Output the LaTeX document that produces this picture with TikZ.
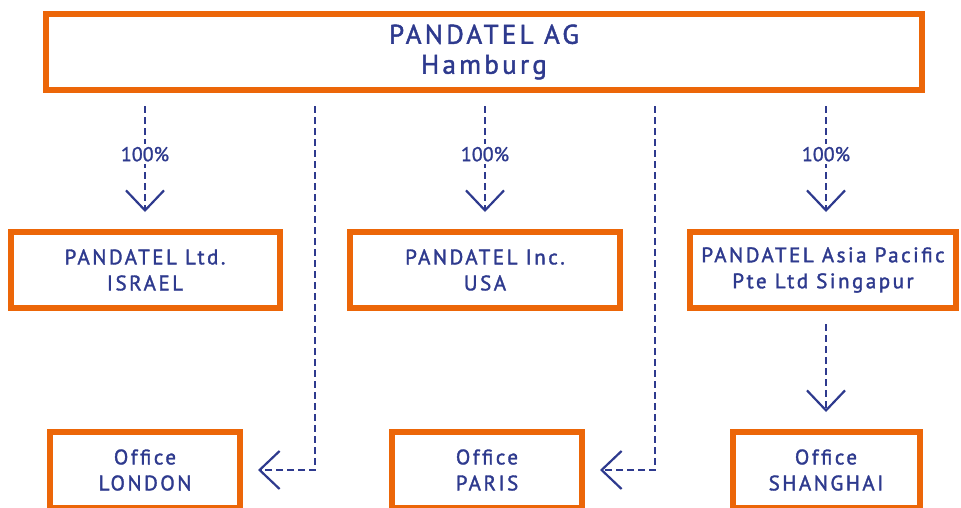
\documentclass[tikz,border=0pt]{standalone}
\usepackage{fontspec}
\usepackage{tikz}
\usetikzlibrary{arrows.meta}
\newfontfamily\orgfont[LetterSpace=12,FakeBold=1.6]{PT Sans}
\newfontfamily\pctfont[FakeBold=1.2]{PT Sans}
\definecolor{pdorange}{HTML}{EC6608}
\definecolor{pdblue}{HTML}{2E3A8E}

\tikzset{
    unit/.style={draw=pdorange, line width=6pt, text=pdblue, align=center,
        font=\orgfont\fontsize{21}{26}\selectfont, minimum height=76pt, inner sep=0pt},
    link/.style={draw=pdblue, line width=2.2pt, dash pattern=on 7pt off 4pt,
        -{Straight Barb[length=20pt,width=38pt,line width=2.2pt]}},
    share/.style={fill=white, text=pdblue, inner sep=3pt, font=\pctfont\fontsize{20}{24}\selectfont}
}

\begin{document}
\begin{tikzpicture}[x=1pt,y=-1pt]
    \useasboundingbox (0,0) rectangle (961,507);

    %boxes
    \node[unit, minimum width=876pt, font=\orgfont\fontsize{27}{30}\selectfont] (hq) at (484,52) {PANDATEL AG\\Hamburg};
    \node[unit, minimum width=269pt] (israel) at (145,270) {PANDATEL Ltd.\\ISRAEL};
    \node[unit, minimum width=270pt] (usa) at (485,270) {PANDATEL Inc.\\USA};
    \node[unit, minimum width=266pt] (asia) at (823,270) {PANDATEL Asia Pacific\\Pte Ltd Singapur};
    \node[unit, minimum width=190pt] (london) at (145,470) {Office\\LONDON};
    \node[unit, minimum width=190pt] (paris) at (487,470) {Office\\PARIS};
    \node[unit, minimum width=187pt] (shanghai) at (826,470) {Office\\SHANGHAI};

    %bends
    \coordinate (lbend) at (315,470);
    \coordinate (pbend) at (655,470);

    %links
    \draw[link, shorten <=13pt, shorten >=17pt] (hq.south -| israel.north) -- node[share, pos=0.45] (pct1) {100\%} (israel.north);
    \draw[link, shorten <=13pt, shorten >=17pt] (hq.south -| usa.north) -- node[share, pos=0.45] (pct2) {100\%} (usa.north);
    \draw[link, shorten <=13pt, shorten >=17pt] (hq.south -| shanghai.north) -- node[share, pos=0.45] (pct3) {100\%} (shanghai.north |- asia.north);
    \draw[link, shorten <=13pt, shorten >=15pt] (hq.south -| lbend) |- (london.east);
    \draw[link, shorten <=13pt, shorten >=15pt] (hq.south -| pbend) |- (paris.east);
    \draw[link, shorten <=13pt, shorten >=17pt] (asia.south -| shanghai.north) -- (shanghai.north);

\end{tikzpicture}
\end{document}
